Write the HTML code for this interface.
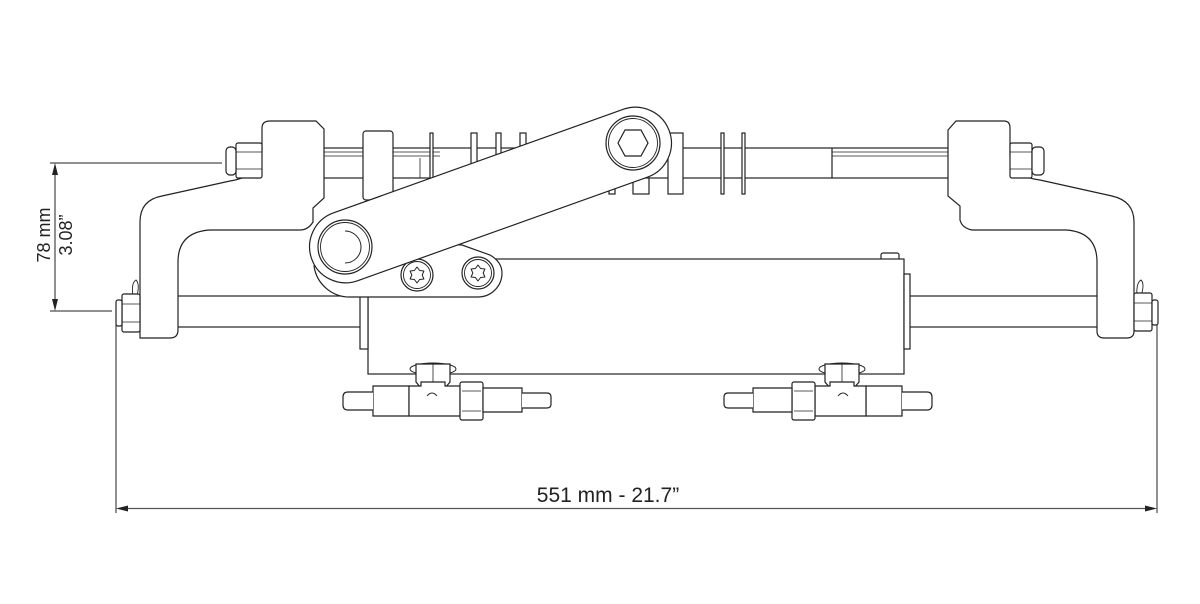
<!DOCTYPE html>
<html><head><meta charset="utf-8"><style>
html,body{margin:0;padding:0;background:#fff;}
svg{display:block;}
text{font-family:"Liberation Sans",Arial,sans-serif;fill:#222;}
</style></head><body>
<svg width="1200" height="604" viewBox="0 0 1200 604" xmlns="http://www.w3.org/2000/svg">
<defs>
<g id="star">
<path d="M0,-8 L2.6,-4.5 L6.9,-4 L5.2,0 L6.9,4 L2.6,4.5 L0,8 L-2.6,4.5 L-6.9,4 L-5.2,0 L-6.9,-4 L-2.6,-4.5 Z" fill="none" stroke="#222" stroke-width="1" stroke-linejoin="round"/>
</g>
<g id="fit" fill="#fff" stroke="#222" stroke-width="1.2">
<ellipse cx="433" cy="369" rx="23" ry="6" fill="none" stroke-width="1"/>
<path d="M416,364 L450,364 L450,382 L445,388 L421,388 L416,382 Z"/>
<line x1="433" y1="364" x2="433" y2="382" stroke-width="0.8"/>
<path d="M373,386 L409,386 L409,416 L373,416 Z"/>
<path d="M373,392 L348,392 Q343,392 343,397 L343,405 Q343,410 348,410 L373,410"/>
<path d="M409,386 L421,386 L421,382 L445,382 L445,386 L460,386 L460,416 L409,416 Z"/>
<path d="M427,396 Q432,390 437,396" fill="none" stroke-width="0.9"/>
<rect x="460" y="382" width="23" height="38" rx="2"/>
<line x1="462" y1="391" x2="481" y2="391" stroke-width="0.8"/>
<line x1="462" y1="411" x2="481" y2="411" stroke-width="0.8"/>
<path d="M483,388 L522,388 L522,412 L483,412 Z"/>
<path d="M522,393 L547,393 Q551,393 551,397 L551,404 Q551,408 547,408 L522,408"/>
</g>
</defs>

<g stroke="#222" stroke-width="1" fill="none">
<line x1="50" y1="163" x2="222" y2="163"/>
<line x1="50" y1="311" x2="112" y2="311"/>
<line x1="55" y1="166" x2="55" y2="308"/>
<line x1="116" y1="316" x2="116" y2="513"/>
<line x1="1157" y1="318" x2="1157" y2="513"/>
<line x1="119" y1="508.5" x2="1154" y2="508.5" stroke="#555" stroke-width="1.3"/>
</g>
<g fill="#222">
<path d="M55,163 L52,175 L58,175 Z"/>
<path d="M55,311 L52,299 L58,299 Z"/>
<path d="M116,508.5 L128,505.5 L128,511.5 Z"/>
<path d="M1157,508.5 L1145,505.5 L1145,511.5 Z"/>
</g>
<text x="50" y="235" font-size="18" text-anchor="middle" transform="rotate(-90 50 235)">78 mm</text>
<text x="72" y="235" font-size="18" text-anchor="middle" transform="rotate(-90 72 235)">3.08”</text>
<text x="608" y="502" font-size="21" text-anchor="middle">551 mm - 21.7”</text>

<g stroke="#222" stroke-width="1.2" fill="#fff">
<rect x="320" y="148" width="632" height="30"/>
<line x1="320" y1="152" x2="440" y2="152" stroke-width="0.8"/>
<line x1="320" y1="156" x2="440" y2="156" stroke-width="0.8"/>
<line x1="832" y1="152" x2="950" y2="152" stroke-width="0.8"/>
<line x1="832" y1="156" x2="950" y2="156" stroke-width="0.8"/>
<line x1="832" y1="148" x2="832" y2="178"/>
<line x1="420" y1="158" x2="420" y2="178" stroke-width="0.8"/>
<rect x="363" y="131" width="30" height="69" rx="3"/>
<rect x="430" y="133" width="3" height="62"/>
<rect x="471" y="133" width="6" height="62"/>
<rect x="496" y="133" width="5" height="62"/>
<rect x="520" y="133" width="6" height="62"/>
<rect x="609" y="180" width="6" height="14"/>
<rect x="633" y="178" width="16" height="16"/>
<rect x="668" y="133" width="15" height="61"/>
<rect x="721" y="133" width="3" height="61"/>
<rect x="742" y="133" width="3" height="61"/>

<rect x="176" y="296" width="186" height="31"/>
<rect x="908" y="296" width="190" height="31"/>

<path d="M262,128 Q262,121 270,121 L316,121 L324,129 L324,198 L313,208 L313,222 Q308,230 300,230 L210,230 Q178,232 178,262 L178,330 Q178,338 170,338 L140,338 L140,222 Q140,200 162,196 L230,181 Q262,176 262,150 Z"/>
<path d="M948,130 L956,121 L1004,121 Q1010,121 1010,128 L1010,155 Q1010,176 1040,180 L1112,196 Q1134,201 1134,222 L1134,331 Q1134,338 1127,338 L1104,338 Q1097,338 1097,331 L1097,262 Q1097,232 1066,230 L972,230 Q962,228 960,220 L960,206 L948,196 Z"/>
<path d="M133,296 Q131,283 136,280 Q140,284 137,296" fill="none" stroke-width="0.9"/>
<path d="M1137,296 Q1136,283 1141,280 Q1145,284 1141,296" fill="none" stroke-width="0.9"/>

<rect x="236" y="143" width="26" height="35" rx="2"/>
<rect x="226" y="147" width="10" height="28" rx="4"/>
<line x1="236" y1="152" x2="262" y2="152" stroke-width="0.8"/>
<line x1="236" y1="169" x2="262" y2="169" stroke-width="0.8"/>
<rect x="1010" y="143" width="22" height="35" rx="2"/>
<rect x="1032" y="147" width="12" height="28" rx="4"/>
<line x1="1010" y1="152" x2="1032" y2="152" stroke-width="0.8"/>
<line x1="1010" y1="169" x2="1032" y2="169" stroke-width="0.8"/>
<rect x="122" y="294" width="18" height="38" rx="2"/>
<rect x="116" y="300" width="6" height="26" rx="2"/>
<line x1="122" y1="304" x2="140" y2="304" stroke-width="0.8"/>
<line x1="122" y1="322" x2="140" y2="322" stroke-width="0.8"/>
<rect x="1134" y="293" width="18" height="38" rx="2"/>
<rect x="1152" y="300" width="6" height="25" rx="2"/>
<line x1="1134" y1="303" x2="1152" y2="303" stroke-width="0.8"/>
<line x1="1134" y1="321" x2="1152" y2="321" stroke-width="0.8"/>

<rect x="881" y="253" width="18" height="8" rx="2"/>
<rect x="368" y="259" width="536" height="115"/>
<rect x="360" y="296" width="8" height="53"/>
<rect x="904" y="274" width="6" height="75"/>
</g>

<use href="#fit"/>
<use href="#fit" transform="translate(1275,0) scale(-1,1)"/>

<g stroke="#222" stroke-width="1.2" fill="#fff">
<path d="M330,236 L462,245 L490,255 Q502,262 502,273 A24,24 0 0 1 478,297 L350,297 A36,36 0 0 1 314,266 Z"/>
<circle cx="417" cy="275" r="16"/>
<circle cx="417" cy="275" r="13.5" fill="none" stroke-width="0.9"/>
<use href="#star" x="417" y="275"/>
<circle cx="478" cy="273" r="16"/>
<circle cx="478" cy="273" r="13.5" fill="none" stroke-width="0.9"/>
<use href="#star" x="478" y="273"/>
<path d="M332.9,213.1 L623.9,109.1 A36,36 0 0 1 648.1,176.9 L357.1,280.9 A36,36 0 0 1 332.9,213.1 Z"/>
<circle cx="345" cy="247" r="27"/>
<circle cx="345" cy="247" r="24.5" fill="none" stroke-width="0.9"/>
<path d="M345,231 A16,16 0 0 1 345,263" fill="none" stroke-width="1"/>
<circle cx="633" cy="143" r="27"/>
<circle cx="633" cy="143" r="24.5" fill="none" stroke-width="0.9"/>
<path d="M618,143 L625,130 L641,130 L648,143 L641,156 L625,156 Z"/>
</g>
</svg>
</body></html>
